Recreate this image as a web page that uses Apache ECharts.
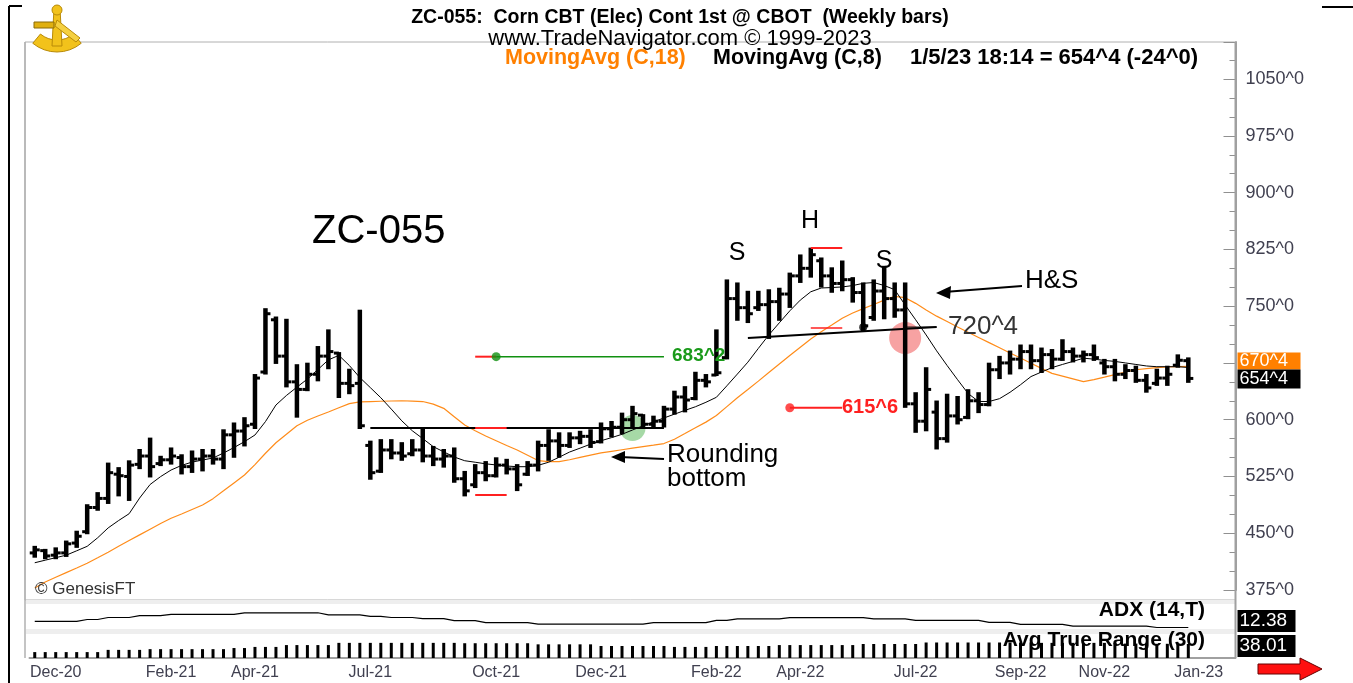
<!DOCTYPE html>
<html><head><meta charset="utf-8">
<script src="https://cdn.jsdelivr.net/npm/echarts/dist/echarts.min.js"></script>
<style>html,body{margin:0;padding:0;background:#fff}#c{width:1353px;height:683px}</style>
</head><body><div id="c"></div>
<script>
const FONT = '"Liberation Sans", Arial, sans-serif';

// ---------- data (weekly bars, Nov-2020 .. Jan-2023) ----------
const opens = [424,427,421,424,437,452,484,496,528,525, 541,552,542,547,550,538,548,552,548,580,
  585,594,663,732,684,650,640,660,684,688, 648,648,566,532,560,556,555,560,552,548,
  552,522,514,530,526,540,535,528,540,566, 572,566,576,578,571,588,590,600,606,594,
  598,614,630,628,652,659,682,760,748,748, 752,756,766,790,800,810,790,780,785,768,
  735,770,760,745,621,598,610,575,605,603, 625,620,666,675,680,690,678,686,680,690,
  684,686,675,670,660,665,652,648,655,672, 678];
const highs = [432,428,430,439,452,487,503,542,536,545, 560,575,551,562,553,558,560,560,586,595,
  602,659,746,735,732,672,674,696,718,688, 666,744,571,573,573,569,573,588,564,560,
  562,531,540,544,549,547,540,544,571,586, 582,582,584,586,595,597,608,617,606,604,
  617,637,643,662,659,718,784,780,769,769, 771,773,793,817,826,813,800,809,787,780,
  784,802,780,780,635,668,624,633,630,639, 635,674,683,690,698,698,694,692,705,694,
  690,698,679,679,672,670,659,666,670,685, 681];
const lows = [419,417,417,420,432,450,481,490,500,494, 536,525,540,542,529,531,533,542,536,551,
  566,589,661,675,644,604,639,652,668,630, 635,589,522,531,549,547,553,545,540,538,
  518,500,511,520,525,529,507,527,533,547, 551,564,569,564,570,578,582,591,589,591,
  591,608,611,627,644,659,681,732,729,745, 708,732,749,782,789,776,769,771,756,718,
  732,734,736,617,584,586,562,571,595,602, 610,619,655,661,668,668,663,668,679,677,
  677,679,661,652,655,650,637,646,646,670, 650];
const closes = [428,420,424,436,446,484,496,530,526,540, 552,538,547,552,538,548,552,548,580,585,
  592,655,740,684,650,640,660,684,690,648, 645,592,530,560,556,552,560,552,548,552,
  522,506,530,526,540,535,514,540,566,572, 566,576,578,570,588,590,600,608,594,598,
  614,630,626,652,650,662,760,748,740,752, 756,766,790,800,818,790,780,785,768,724,
  770,760,745,621,598,640,575,605,600,625, 620,666,675,680,690,678,686,680,690,684,
  686,682,670,660,665,652,642,655,660,678.5, 654.5];
const ma8 = [411,414.4,417.7,421,426.8,432.7,444,457,466.8,475.8, 496.5,514.4,524.8,533.5,539.6,544,546.7,549.4,556,563.2,
  571,579.8,597.5,619.4,632,643,653.7,666.3,679,685, 671.6,655.7,642.4,629,614,598.5,585.4,575,564.4,557.5,
  550.7,545.8,543.8,541.7,540.2,538.8,537.9,537.9,539.7,543.8, 550.4,557.3,562.4,567.7,572.2,576.3,580.7,586.4,591.9,597.2,
  602.3,607.3,612.3,617.1,623,629.6,644.8,660.3,676,694.2, 712,728,743.8,758,769,774,774.6,775.4,777.2,780.2,
  781.2,777.3,771.8,751.5,732,712,691,671.6,652.8,634.6, 624.1,624,627.8,636.2,646.2,657,663,668.8,673,677,
  681.3,680,678.3,677,675,673,671,670,670,670, 669];
const ma18 = [377.6,385.6,391.8,397.9,404,410.3,417.5,425,432.7,440.3, 447.8,455.3,462.8,469.7,475.5,481.4,487.3,495.7,506,516.5,
  527,540.7,555.7,569.5,580.8,592,599.3,604.8,610.2,615.7, 621.2,623.6,624,624.4,624.7,625,624.5,624,620.6,615,
  604,593,585.3,578.4,572.2,566,560,553,546,544.5, 544.5,547.1,550.2,553.2,556.1,558.2,560.3,562.4,564.4,566.4,
  568.5,574.2,581.7,589.3,596.8,605.5,617.3,629,639.9,651, 662.3,673.6,684.7,695.6,706.6,716.2,725,734,741,746.7,
  752.2,758,763,761.2,753.7,744.9,736.8,729.7,722.5,715.6, 708.7,701.8,695,688.2,681.4,674.6,667.8,661.2,657.6,654,
  650.3,653,656.2,659.6,663,666,667.6,668.8,669.6,670.2, 670.5];
const adx = [25.9,25.9,25.9,25.9,25.9,30.1,30.1,34.5,34.5,34.5, 38.7,38.7,38.7,41.4,41.4,41.4,41.4,41.4,41.4,41.4,
  45,45,45,45,45,45,45,45,40.5,40.5, 40.5,40.5,37.2,37.2,34.5,34.5,34.5,31.9,31.9,31.9,
  27.6,27.6,27.6,23.2,23.2,23.2,23.2,23.2,20,20, 20,20,20,20,20,20,20,20,20,23,
  23,23,23,23,23,28.1,28.1,31.6,31.6,31.6, 31.6,31.6,34.3,34.3,34.3,34.3,34.3,34.3,34.3,34.3,
  31.6,31.6,31.6,31.6,28.1,28.1,28.1,28.1,28.1,28.1, 28.1,23.7,23.7,23.7,19.4,19.4,19.4,19.4,19.4,15.2,
  15.2,15.2,15.2,15.2,15.2,15.2,15.2,12.38,12.38,12.38, 12.38];
const atr = [16,16,16,16,16,16,16,22,22,22, 22,24,24,24,24,24,24,24,24,27,
  27,30,30,30,35,35,35,35,35,41, 41,41,41,41,41,41,41,41,41,41,
  41,40,40,40,40,40,40,40,37,37, 37,37,37,37,32.5,32.5,32.5,32.5,32.5,32.5,
  32.5,30,30,30,30,32.5,32.5,32.5,32.5,32.5, 32.5,35,35,35,35,35,35,35,35,38,
  38,38,38,38,38,42,42,42,42,42, 42,42,42,42,42,42,41,41,41,41,
  41,41,41,41,39,39,39,38.5,38.5,38, 38.01];
const xLabelIdx  = [2, 13, 21, 32, 44, 54, 65, 73, 84, 94, 102, 111];
const xLabelText = ['Dec-20','Feb-21','Apr-21','Jul-21','Oct-21','Dec-21','Feb-22','Apr-22','Jul-22','Sep-22','Nov-22','Jan-23'];
const yTickStep = 75;
// annotation levels
const rbNeck   = [[32, 589], [60, 589]];
const rbNeckRed= [[42, 589], [45, 589]];
const rbLow    = [[42, 500.5], [45, 500.5]];
const tgtUp    = [[44, 683.25], [60, 683.25]];
const tgtUpRed = [[42, 683.25], [44, 683.25]];
const tgtDn    = [[72, 615.75], [77, 615.75]];
const hsNeck   = [[68, 708], [86, 722.4]];
const hsNeck2  = [[83, 722.4], [86, 722.4]];
const hTop     = [[74, 826.8], [77, 826.8]];
const hsRed    = [[74, 721], [77, 721]];

// categories: week-ending Fridays (111 bars + 4 empty slots)
const NCAT = 115;
const cats = [];
{ let d = new Date(Date.UTC(2020, 10, 27)); for (let i = 0; i < NCAT; i++) { cats.push(d.toISOString().slice(0,10)); d = new Date(d.getTime() + 7*864e5); } }

function fmt8(v){ const f = Math.floor(v); return f + '^' + Math.round((v - f) * 8); }

const GL = 29.5, GW = 1206;
const chart = echarts.init(document.getElementById('c'), null, {renderer:'canvas'});
const ohlc = highs.map((h, i) => [i, opens[i], h, lows[i], closes[i]]);

const lineSer = (data, color, width) => ({type:'line', xAxisIndex:0, yAxisIndex:0, data, showSymbol:false, symbol:'none',
  lineStyle:{color, width}, silent:true, z:4, animation:false});

const option = {
  animation:false,
  backgroundColor:'#fff',
  grid:[
    {left:GL, width:GW, top:42, height:548},
    {left:GL, width:GW, top:604, height:25},
    {left:GL, width:GW, top:634, height:24}
  ],
  xAxis:[
    {type:'category', gridIndex:0, data:cats, boundaryGap:true, show:false},
    {type:'category', gridIndex:1, data:cats, boundaryGap:true, show:false},
    {type:'category', gridIndex:2, data:cats, boundaryGap:true,
     axisLine:{show:true, lineStyle:{color:'#a0a0a0', width:2}}, axisTick:{show:false},
     axisLabel:{interval:(i)=>xLabelIdx.includes(i), formatter:(v,i)=>xLabelText[xLabelIdx.indexOf(i)] || '',
       color:'#404050', fontFamily:FONT, fontSize:16, margin:7}}
  ],
  yAxis:[
    {type:'value', gridIndex:0, position:'right', min:375, max:1099, interval:yTickStep, scale:false,
     axisLine:{show:true, lineStyle:{color:'#a0a0a0', width:2}},
     axisTick:{show:true, inside:true, length:12, lineStyle:{color:'#909090'}},
     minorTick:{show:true, splitNumber:3, length:6, lineStyle:{color:'#909090'}},
     splitLine:{show:false},
     axisLabel:{showMaxLabel:false, formatter:(v)=>fmt8(v), color:'#404050', fontFamily:FONT, fontSize:18, margin:10}},
    {type:'value', gridIndex:1, min:9, max:64.5, show:false},
    {type:'value', gridIndex:2, min:0, max:65, show:false}
  ],
  series:[
    {type:'scatter', xAxisIndex:0, yAxisIndex:0, data:[[57, 589]], symbolSize:26, itemStyle:{color:'rgba(70,175,70,0.6)'}, z:1, silent:true},
    {type:'scatter', xAxisIndex:0, yAxisIndex:0, data:[[83, 708]], symbolSize:32, itemStyle:{color:'rgba(240,90,90,0.7)'}, z:1, silent:true},
    lineSer(ma18, '#ff8c1a', 1.2),
    lineSer(ma8, '#000', 1),
    {type:'custom', xAxisIndex:0, yAxisIndex:0, data:ohlc, z:5, encode:{x:0, y:[1,2,3,4]},
     renderItem:(params, api) => {
       const x = api.value(0);
       const o = api.coord([x, api.value(1)]), h = api.coord([x, api.value(2)]),
             l = api.coord([x, api.value(3)]), c = api.coord([x, api.value(4)]);
       return {type:'group', children:[
         {type:'line', shape:{x1:h[0], y1:h[1]-1, x2:l[0], y2:l[1]+1}, style:{stroke:'#000', lineWidth:4.5}},
         {type:'line', shape:{x1:o[0]-5, y1:o[1], x2:o[0], y2:o[1]}, style:{stroke:'#000', lineWidth:3}},
         {type:'line', shape:{x1:c[0], y1:c[1], x2:c[0]+5, y2:c[1]}, style:{stroke:'#000', lineWidth:3}}
       ]};
     }},
    Object.assign(lineSer(rbNeck, '#000', 2), {z:6}),
    Object.assign(lineSer(rbNeckRed, '#ff2020', 2), {z:7}),
    Object.assign(lineSer(rbLow, '#ff2020', 2), {z:7}),
    Object.assign(lineSer(tgtUp, '#109010', 1.5), {z:7}),
    Object.assign(lineSer(tgtUpRed, '#ff2020', 2), {z:7}),
    Object.assign(lineSer(tgtDn, '#ff2020', 2), {z:7}),
    Object.assign(lineSer(hsNeck, '#000', 2), {z:6}),
    Object.assign(lineSer(hsNeck2, '#000', 1), {z:6}),
    Object.assign(lineSer(hTop, '#ff2020', 2), {z:7}),
    Object.assign(lineSer(hsRed, '#ff2020', 1.5), {z:7}),
    {type:'scatter', xAxisIndex:0, yAxisIndex:0, data:[[44, 683.25]], symbolSize:9, itemStyle:{color:'#109010'}, z:9, silent:true},
    {type:'scatter', xAxisIndex:0, yAxisIndex:0, data:[[72, 615.75]], symbolSize:9, itemStyle:{color:'#ff2020'}, z:9, silent:true},
    {type:'scatter', xAxisIndex:0, yAxisIndex:0, data:[[79, 722]], symbolSize:8, itemStyle:{color:'#000'}, z:9, silent:true},
    {type:'line', xAxisIndex:1, yAxisIndex:1, data:adx, showSymbol:false, symbol:'none', lineStyle:{color:'#000', width:1.2}, silent:true},
    {type:'bar', xAxisIndex:2, yAxisIndex:2, data:atr, barWidth:3, itemStyle:{color:'#000'}, silent:true}
  ]
};
chart.setOption(option);

// ---------- decorations ----------
const T = (text, x, y, size, opts={}, z=200) => ({type:'text', x, y, z, style:Object.assign({text, fontFamily:FONT, fontSize:size,
  fill:'#000', align:'left', verticalAlign:'middle'}, opts)});
const L = (x1,y1,x2,y2,stroke,w,z=50) => ({type:'line', z, shape:{x1,y1,x2,y2}, style:{stroke, lineWidth:w}});
const R = (x,y,w,h,fill,stroke,z=1) => ({type:'rect', z, shape:{x,y,width:w,height:h}, style:{fill, stroke, lineWidth:stroke?1:0}});

const axisX = GL + GW;
const yLast = chart.convertToPixel({yAxisIndex:0}, closes[closes.length-1]);
const yMa18 = Math.min(chart.convertToPixel({yAxisIndex:0}, ma18[ma18.length-1]), yLast - 17);

const g = [
  // frame
  L(9,6,9,683,'#000',2,1), L(9,6,22,6,'#000',2,1), L(1322,7,1353,7,'#000',2,1),
  R(25,42,axisX-25,558,null,'#b0b0b0',0),
  L(25,42,25,658,'#b0b0b0',1.5,1),
  R(26,600,axisX-26,4,'#eeeeee',null,0),
  R(26,629,axisX-26,5,'#eeeeee',null,0),
  L(axisX,42,axisX,658,'#a0a0a0',2,1),
  // logo (sextant)
  {type:'sector', z:20, shape:{cx:57, cy:14, r:38, r0:26, startAngle:Math.PI*0.28, endAngle:Math.PI*0.72}, style:{fill:'#f2c21b', stroke:'#b88a08', lineWidth:1}},
  {type:'polygon', z:20, shape:{points:[[54,8],[60,8],[62,46],[52,46]]}, style:{fill:'#f2c21b', stroke:'#b88a08', lineWidth:1}},
  {type:'rect', z:20, shape:{x:34, y:22, width:20, height:6}, style:{fill:'#e0b010', stroke:'#8a6a08', lineWidth:1}},
  {type:'circle', z:20, shape:{cx:57, cy:10, r:5}, style:{fill:'#f2c21b', stroke:'#b88a08', lineWidth:1}},
  {type:'polygon', z:20, shape:{points:[[57,20],[80,38],[76,42],[55,26]]}, style:{fill:'#f5d040', stroke:'#b88a08', lineWidth:1}},
  // titles
  T('ZC-055:  Corn CBT (Elec) Cont 1st @ CBOT  (Weekly bars)', 680, 18, 19.5, {fontWeight:'bold', align:'center'}),
  T('www.TradeNavigator.com \u00a9 1999-2023', 680, 39, 22, {align:'center'}),
  T('MovingAvg (C,18)', 505, 58, 21.5, {fontWeight:'bold', fill:'#ff8000'}),
  T('MovingAvg (C,8)', 713, 58, 21.5, {fontWeight:'bold'}),
  T('1/5/23 18:14 = ' + fmt8(closes[closes.length-1]) + ' (-24^0)', 910, 58, 22, {fontWeight:'bold'}),
  // annotations
  T('ZC-055', 312, 232, 40, {}),
  T('S', 737, 253, 25, {align:'center'}),
  T('H', 810, 221, 25, {align:'center'}),
  T('S', 884, 261, 25, {align:'center'}),
  T('H&S', 1025, 281, 26, {}),
  T('720^4', 948, 327, 26, {fill:'#333'}),
  T('Rounding', 667, 455, 26, {}),
  T('bottom', 667, 479, 26, {}),
  T('683^2', 672, 356, 19, {fontWeight:'bold', fill:'#1a9a1a'}),
  T('615^6', 842, 407, 20, {fontWeight:'bold', fill:'#ff2020'}),
  T('\u00a9 GenesisFT', 35, 589, 17, {fill:'#333'}),
  T('ADX (14,T)', 1205, 610, 21, {fontWeight:'bold', align:'right'}),
  T('Avg True Range (30)', 1205, 640, 21, {fontWeight:'bold', align:'right'}),
  // arrows
  L(1022,286,944,292,'#000',2), {type:'polygon', z:50, shape:{points:[[936,293],[951,286],[950,299]]}, style:{fill:'#000'}},
  L(664,459,620,457,'#000',2), {type:'polygon', z:50, shape:{points:[[611,457],[625,451],[625,463]]}, style:{fill:'#000'}},
  // right value boxes
  R(axisX+2, yMa18-9, 63, 17, '#ff8000', null, 150),
  T(fmt8(ma18[ma18.length-1]), axisX+4, yMa18, 18, {fill:'#fff'}, 151),
  R(axisX+2, yLast-9, 63, 19, '#000', null, 160),
  T(fmt8(closes[closes.length-1]), axisX+4, yLast+1, 18, {fill:'#fff'}, 161),
  R(axisX+2, 610, 58, 22, '#000', null, 150),
  T(String(adx[adx.length-1]), axisX+4, 621, 19, {fill:'#fff'}, 161),
  R(axisX+2, 635, 58, 22, '#000', null, 150),
  T(String(atr[atr.length-1]), axisX+4, 646, 19, {fill:'#fff'}, 161),
  // bottom red arrow
  {type:'polygon', z:50, shape:{points:[[1258,664],[1300,664],[1300,658],[1322,669],[1300,680],[1300,674],[1258,674]]}, style:{fill:'#ff1010', stroke:'#600', lineWidth:1}}
];
chart.setOption({graphic:g});
</script></body></html>
